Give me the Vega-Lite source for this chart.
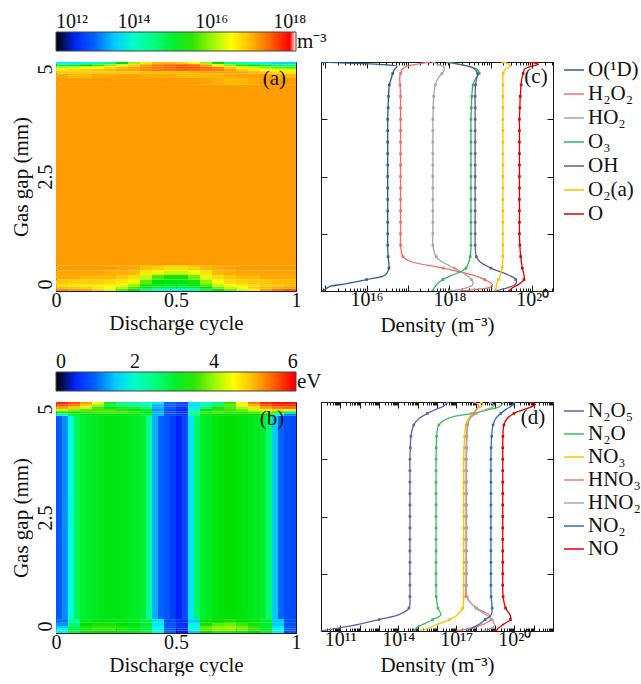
{
"$schema":"https://vega.github.io/schema/vega-lite/v6.json",
"background":"white",
"padding":{"left":9,"top":31,"right":0,"bottom":0},
"columns":2,
"spacing":{"row":111,"column":25},
"bounds":"flush",
"config":{
"font":"Liberation Serif",
"view":{"stroke":"#1a1a1a","strokeWidth":1},
"axis":{"labelFont":"Liberation Serif","titleFont":"Liberation Serif","labelFontSize":20,"titleFontSize":21,"titleFontWeight":"normal","labelColor":"#111111","titleColor":"#111111","tickColor":"#1a1a1a","grid":false,"labelFlush":false,"labelOverlap":false,"domain":false},
"legend":{"labelFont":"Liberation Serif","titleFont":"Liberation Serif","labelFontSize":21,"titleFontSize":21,"titleFontWeight":"normal","labelColor":"#111111","titleColor":"#111111","padding":0,"gradientHorizontalMaxLength":400,"gradientHorizontalMinLength":50,"labelOverlap":false},
"text":{"font":"Liberation Serif"}
},
"resolve":{"scale":{"color":"independent","fill":"independent","stroke":"independent"},"legend":{"color":"independent","fill":"independent","stroke":"independent"}},
"datasets":{
"ne":[
{"t":0,"u":1,"g":0.55,"h":4.5,"v":17.2},
{"t":0,"u":0.05,"g":4.95,"h":5,"v":13.65},{"t":0,"u":0.05,"g":4.9,"h":4.95,"v":14.85},{"t":0,"u":0.05,"g":4.85,"h":4.9,"v":16.2},{"t":0,"u":0.05,"g":4.8,"h":4.85,"v":16.65},{"t":0,"u":0.05,"g":4.75,"h":4.8,"v":16.9},{"t":0,"u":0.05,"g":4.65,"h":4.75,"v":17.1},{"t":0,"u":0.05,"g":4.5,"h":4.65,"v":17.2},
{"t":0,"u":0.05,"g":0,"h":0.05,"v":17.3},{"t":0,"u":0.05,"g":0.05,"h":0.1,"v":17.0},{"t":0,"u":0.05,"g":0.1,"h":0.15,"v":16.75},{"t":0,"u":0.05,"g":0.15,"h":0.25,"v":16.9},{"t":0,"u":0.05,"g":0.25,"h":0.35,"v":17.1},{"t":0,"u":0.05,"g":0.35,"h":0.45,"v":17.15},{"t":0,"u":0.05,"g":0.45,"h":0.55,"v":17.2},
{"t":0.05,"u":0.1,"g":4.95,"h":5,"v":13.65},{"t":0.05,"u":0.1,"g":4.9,"h":4.95,"v":15.0},{"t":0.05,"u":0.1,"g":4.85,"h":4.9,"v":16.3},{"t":0.05,"u":0.1,"g":4.8,"h":4.85,"v":16.75},{"t":0.05,"u":0.1,"g":4.75,"h":4.8,"v":16.9},{"t":0.05,"u":0.1,"g":4.65,"h":4.75,"v":17.0},{"t":0.05,"u":0.1,"g":4.5,"h":4.65,"v":17.2},
{"t":0.05,"u":0.1,"g":0,"h":0.05,"v":17.2},{"t":0.05,"u":0.1,"g":0.05,"h":0.1,"v":16.9},{"t":0.05,"u":0.1,"g":0.1,"h":0.15,"v":16.65},{"t":0.05,"u":0.1,"g":0.15,"h":0.25,"v":16.85},{"t":0.05,"u":0.1,"g":0.25,"h":0.35,"v":17.1},{"t":0.05,"u":0.1,"g":0.35,"h":0.45,"v":17.15},{"t":0.05,"u":0.1,"g":0.45,"h":0.55,"v":17.2},
{"t":0.1,"u":0.15,"g":4.95,"h":5,"v":13.75},{"t":0.1,"u":0.15,"g":4.9,"h":4.95,"v":15.3},{"t":0.1,"u":0.15,"g":4.85,"h":4.9,"v":16.4},{"t":0.1,"u":0.15,"g":4.8,"h":4.85,"v":16.85},{"t":0.1,"u":0.15,"g":4.75,"h":4.8,"v":16.9},{"t":0.1,"u":0.15,"g":4.65,"h":4.75,"v":17.0},{"t":0.1,"u":0.15,"g":4.5,"h":4.65,"v":17.2},
{"t":0.1,"u":0.15,"g":0,"h":0.05,"v":17.15},{"t":0.1,"u":0.15,"g":0.05,"h":0.1,"v":16.85},{"t":0.1,"u":0.15,"g":0.1,"h":0.15,"v":16.65},{"t":0.1,"u":0.15,"g":0.15,"h":0.25,"v":16.85},{"t":0.1,"u":0.15,"g":0.25,"h":0.35,"v":17.0},{"t":0.1,"u":0.15,"g":0.35,"h":0.45,"v":17.15},{"t":0.1,"u":0.15,"g":0.45,"h":0.55,"v":17.2},
{"t":0.15,"u":0.2,"g":4.95,"h":5,"v":13.95},{"t":0.15,"u":0.2,"g":4.9,"h":4.95,"v":15.6},{"t":0.15,"u":0.2,"g":4.85,"h":4.9,"v":16.5},{"t":0.15,"u":0.2,"g":4.8,"h":4.85,"v":16.9},{"t":0.15,"u":0.2,"g":4.75,"h":4.8,"v":16.9},{"t":0.15,"u":0.2,"g":4.65,"h":4.75,"v":17.1},{"t":0.15,"u":0.2,"g":4.5,"h":4.65,"v":17.2},
{"t":0.15,"u":0.2,"g":0,"h":0.05,"v":16.85},{"t":0.15,"u":0.2,"g":0.05,"h":0.1,"v":16.65},{"t":0.15,"u":0.2,"g":0.1,"h":0.15,"v":16.65},{"t":0.15,"u":0.2,"g":0.15,"h":0.25,"v":16.85},{"t":0.15,"u":0.2,"g":0.25,"h":0.35,"v":17.0},{"t":0.15,"u":0.2,"g":0.35,"h":0.45,"v":17.15},{"t":0.15,"u":0.2,"g":0.45,"h":0.55,"v":17.2},
{"t":0.2,"u":0.25,"g":4.95,"h":5,"v":14.4},{"t":0.2,"u":0.25,"g":4.9,"h":4.95,"v":16.0},{"t":0.2,"u":0.25,"g":4.85,"h":4.9,"v":16.75},{"t":0.2,"u":0.25,"g":4.8,"h":4.85,"v":17.0},{"t":0.2,"u":0.25,"g":4.75,"h":4.8,"v":16.9},{"t":0.2,"u":0.25,"g":4.65,"h":4.75,"v":17.1},{"t":0.2,"u":0.25,"g":4.5,"h":4.65,"v":17.2},
{"t":0.2,"u":0.25,"g":0,"h":0.05,"v":16.3},{"t":0.2,"u":0.25,"g":0.05,"h":0.1,"v":16.5},{"t":0.2,"u":0.25,"g":0.1,"h":0.15,"v":16.6},{"t":0.2,"u":0.25,"g":0.15,"h":0.25,"v":16.75},{"t":0.2,"u":0.25,"g":0.25,"h":0.35,"v":17.0},{"t":0.2,"u":0.25,"g":0.35,"h":0.45,"v":17.1},{"t":0.2,"u":0.25,"g":0.45,"h":0.55,"v":17.2},
{"t":0.25,"u":0.3,"g":4.95,"h":5,"v":15.3},{"t":0.25,"u":0.3,"g":4.9,"h":4.95,"v":16.4},{"t":0.25,"u":0.3,"g":4.85,"h":4.9,"v":17.0},{"t":0.25,"u":0.3,"g":4.8,"h":4.85,"v":17.1},{"t":0.25,"u":0.3,"g":4.75,"h":4.8,"v":16.9},{"t":0.25,"u":0.3,"g":4.65,"h":4.75,"v":17.15},{"t":0.25,"u":0.3,"g":4.5,"h":4.65,"v":17.2},
{"t":0.25,"u":0.3,"g":0,"h":0.05,"v":15.7},{"t":0.25,"u":0.3,"g":0.05,"h":0.1,"v":16.1},{"t":0.25,"u":0.3,"g":0.1,"h":0.15,"v":16.4},{"t":0.25,"u":0.3,"g":0.15,"h":0.25,"v":16.65},{"t":0.25,"u":0.3,"g":0.25,"h":0.35,"v":16.9},{"t":0.25,"u":0.3,"g":0.35,"h":0.45,"v":17.1},{"t":0.25,"u":0.3,"g":0.45,"h":0.55,"v":17.15},
{"t":0.3,"u":0.35,"g":4.95,"h":5,"v":16.0},{"t":0.3,"u":0.35,"g":4.9,"h":4.95,"v":16.85},{"t":0.3,"u":0.35,"g":4.85,"h":4.9,"v":17.15},{"t":0.3,"u":0.35,"g":4.8,"h":4.85,"v":17.15},{"t":0.3,"u":0.35,"g":4.75,"h":4.8,"v":16.9},{"t":0.3,"u":0.35,"g":4.65,"h":4.75,"v":17.15},{"t":0.3,"u":0.35,"g":4.5,"h":4.65,"v":17.2},
{"t":0.3,"u":0.35,"g":0,"h":0.05,"v":15.15},{"t":0.3,"u":0.35,"g":0.05,"h":0.1,"v":15.6},{"t":0.3,"u":0.35,"g":0.1,"h":0.15,"v":16.0},{"t":0.3,"u":0.35,"g":0.15,"h":0.25,"v":16.4},{"t":0.3,"u":0.35,"g":0.25,"h":0.35,"v":16.75},{"t":0.3,"u":0.35,"g":0.35,"h":0.45,"v":17.0},{"t":0.3,"u":0.35,"g":0.45,"h":0.55,"v":17.1},
{"t":0.35,"u":0.4,"g":4.95,"h":5,"v":16.65},{"t":0.35,"u":0.4,"g":4.9,"h":4.95,"v":17.2},{"t":0.35,"u":0.4,"g":4.85,"h":4.9,"v":17.3},{"t":0.35,"u":0.4,"g":4.8,"h":4.85,"v":17.3},{"t":0.35,"u":0.4,"g":4.75,"h":4.8,"v":17.0},{"t":0.35,"u":0.4,"g":4.65,"h":4.75,"v":17.1},{"t":0.35,"u":0.4,"g":4.5,"h":4.65,"v":17.2},
{"t":0.35,"u":0.4,"g":0,"h":0.05,"v":14.4},{"t":0.35,"u":0.4,"g":0.05,"h":0.1,"v":15.2},{"t":0.35,"u":0.4,"g":0.1,"h":0.15,"v":15.4},{"t":0.35,"u":0.4,"g":0.15,"h":0.25,"v":15.7},{"t":0.35,"u":0.4,"g":0.25,"h":0.35,"v":16.2},{"t":0.35,"u":0.4,"g":0.35,"h":0.45,"v":16.65},{"t":0.35,"u":0.4,"g":0.45,"h":0.55,"v":16.95},
{"t":0.4,"u":0.45,"g":4.95,"h":5,"v":17.0},{"t":0.4,"u":0.45,"g":4.9,"h":4.95,"v":17.4},{"t":0.4,"u":0.45,"g":4.85,"h":4.9,"v":17.4},{"t":0.4,"u":0.45,"g":4.8,"h":4.85,"v":17.35},{"t":0.4,"u":0.45,"g":4.75,"h":4.8,"v":17.0},{"t":0.4,"u":0.45,"g":4.65,"h":4.75,"v":17.1},{"t":0.4,"u":0.45,"g":4.5,"h":4.65,"v":17.2},
{"t":0.4,"u":0.45,"g":0,"h":0.05,"v":13.9},{"t":0.4,"u":0.45,"g":0.05,"h":0.1,"v":14.95},{"t":0.4,"u":0.45,"g":0.1,"h":0.15,"v":15.15},{"t":0.4,"u":0.45,"g":0.15,"h":0.25,"v":15.3},{"t":0.4,"u":0.45,"g":0.25,"h":0.35,"v":15.6},{"t":0.4,"u":0.45,"g":0.35,"h":0.45,"v":16.4},{"t":0.4,"u":0.45,"g":0.45,"h":0.55,"v":16.85},
{"t":0.45,"u":0.5,"g":4.95,"h":5,"v":17.0},{"t":0.45,"u":0.5,"g":4.9,"h":4.95,"v":17.5},{"t":0.45,"u":0.5,"g":4.85,"h":4.9,"v":17.5},{"t":0.45,"u":0.5,"g":4.8,"h":4.85,"v":17.4},{"t":0.45,"u":0.5,"g":4.75,"h":4.8,"v":17.0},{"t":0.45,"u":0.5,"g":4.65,"h":4.75,"v":17.1},{"t":0.45,"u":0.5,"g":4.5,"h":4.65,"v":17.2},
{"t":0.45,"u":0.5,"g":0,"h":0.05,"v":13.7},{"t":0.45,"u":0.5,"g":0.05,"h":0.1,"v":14.9},{"t":0.45,"u":0.5,"g":0.1,"h":0.15,"v":15.1},{"t":0.45,"u":0.5,"g":0.15,"h":0.25,"v":15.2},{"t":0.45,"u":0.5,"g":0.25,"h":0.35,"v":15.4},{"t":0.45,"u":0.5,"g":0.35,"h":0.45,"v":16.2},{"t":0.45,"u":0.5,"g":0.45,"h":0.55,"v":16.75},
{"t":0.5,"u":0.55,"g":4.95,"h":5,"v":16.85},{"t":0.5,"u":0.55,"g":4.9,"h":4.95,"v":17.6},{"t":0.5,"u":0.55,"g":4.85,"h":4.9,"v":17.6},{"t":0.5,"u":0.55,"g":4.8,"h":4.85,"v":17.45},{"t":0.5,"u":0.55,"g":4.75,"h":4.8,"v":17.0},{"t":0.5,"u":0.55,"g":4.65,"h":4.75,"v":17.0},{"t":0.5,"u":0.55,"g":4.5,"h":4.65,"v":17.2},
{"t":0.5,"u":0.55,"g":0,"h":0.05,"v":13.7},{"t":0.5,"u":0.55,"g":0.05,"h":0.1,"v":14.9},{"t":0.5,"u":0.55,"g":0.1,"h":0.15,"v":15.1},{"t":0.5,"u":0.55,"g":0.15,"h":0.25,"v":15.2},{"t":0.5,"u":0.55,"g":0.25,"h":0.35,"v":15.4},{"t":0.5,"u":0.55,"g":0.35,"h":0.45,"v":16.2},{"t":0.5,"u":0.55,"g":0.45,"h":0.55,"v":16.75},
{"t":0.55,"u":0.6,"g":4.95,"h":5,"v":16.5},{"t":0.55,"u":0.6,"g":4.9,"h":4.95,"v":17.5},{"t":0.55,"u":0.6,"g":4.85,"h":4.9,"v":17.6},{"t":0.55,"u":0.6,"g":4.8,"h":4.85,"v":17.45},{"t":0.55,"u":0.6,"g":4.75,"h":4.8,"v":17.1},{"t":0.55,"u":0.6,"g":4.65,"h":4.75,"v":17.0},{"t":0.55,"u":0.6,"g":4.5,"h":4.65,"v":17.2},
{"t":0.55,"u":0.6,"g":0,"h":0.05,"v":14.0},{"t":0.55,"u":0.6,"g":0.05,"h":0.1,"v":15.0},{"t":0.55,"u":0.6,"g":0.1,"h":0.15,"v":15.2},{"t":0.55,"u":0.6,"g":0.15,"h":0.25,"v":15.4},{"t":0.55,"u":0.6,"g":0.25,"h":0.35,"v":15.8},{"t":0.55,"u":0.6,"g":0.35,"h":0.45,"v":16.4},{"t":0.55,"u":0.6,"g":0.45,"h":0.55,"v":16.85},
{"t":0.6,"u":0.65,"g":4.95,"h":5,"v":16.0},{"t":0.6,"u":0.65,"g":4.9,"h":4.95,"v":17.15},{"t":0.6,"u":0.65,"g":4.85,"h":4.9,"v":17.5},{"t":0.6,"u":0.65,"g":4.8,"h":4.85,"v":17.4},{"t":0.6,"u":0.65,"g":4.75,"h":4.8,"v":17.15},{"t":0.6,"u":0.65,"g":4.65,"h":4.75,"v":17.0},{"t":0.6,"u":0.65,"g":4.5,"h":4.65,"v":17.15},
{"t":0.6,"u":0.65,"g":0,"h":0.05,"v":14.7},{"t":0.6,"u":0.65,"g":0.05,"h":0.1,"v":15.3},{"t":0.6,"u":0.65,"g":0.1,"h":0.15,"v":15.6},{"t":0.6,"u":0.65,"g":0.15,"h":0.25,"v":15.95},{"t":0.6,"u":0.65,"g":0.25,"h":0.35,"v":16.35},{"t":0.6,"u":0.65,"g":0.35,"h":0.45,"v":16.7},{"t":0.6,"u":0.65,"g":0.45,"h":0.55,"v":17.0},
{"t":0.65,"u":0.7,"g":4.95,"h":5,"v":15.3},{"t":0.65,"u":0.7,"g":4.9,"h":4.95,"v":16.5},{"t":0.65,"u":0.7,"g":4.85,"h":4.9,"v":17.3},{"t":0.65,"u":0.7,"g":4.8,"h":4.85,"v":17.35},{"t":0.65,"u":0.7,"g":4.75,"h":4.8,"v":17.2},{"t":0.65,"u":0.7,"g":4.65,"h":4.75,"v":17.0},{"t":0.65,"u":0.7,"g":4.5,"h":4.65,"v":17.1},
{"t":0.65,"u":0.7,"g":0,"h":0.05,"v":15.4},{"t":0.65,"u":0.7,"g":0.05,"h":0.1,"v":15.8},{"t":0.65,"u":0.7,"g":0.1,"h":0.15,"v":16.2},{"t":0.65,"u":0.7,"g":0.15,"h":0.25,"v":16.5},{"t":0.65,"u":0.7,"g":0.25,"h":0.35,"v":16.75},{"t":0.65,"u":0.7,"g":0.35,"h":0.45,"v":17.0},{"t":0.65,"u":0.7,"g":0.45,"h":0.55,"v":17.1},
{"t":0.7,"u":0.75,"g":4.95,"h":5,"v":14.4},{"t":0.7,"u":0.75,"g":4.9,"h":4.95,"v":16.0},{"t":0.7,"u":0.75,"g":4.85,"h":4.9,"v":16.85},{"t":0.7,"u":0.75,"g":4.8,"h":4.85,"v":17.15},{"t":0.7,"u":0.75,"g":4.75,"h":4.8,"v":17.2},{"t":0.7,"u":0.75,"g":4.65,"h":4.75,"v":17.1},{"t":0.7,"u":0.75,"g":4.5,"h":4.65,"v":17.0},
{"t":0.7,"u":0.75,"g":0,"h":0.05,"v":15.8},{"t":0.7,"u":0.75,"g":0.05,"h":0.1,"v":16.2},{"t":0.7,"u":0.75,"g":0.1,"h":0.15,"v":16.5},{"t":0.7,"u":0.75,"g":0.15,"h":0.25,"v":16.75},{"t":0.7,"u":0.75,"g":0.25,"h":0.35,"v":16.9},{"t":0.7,"u":0.75,"g":0.35,"h":0.45,"v":17.1},{"t":0.7,"u":0.75,"g":0.45,"h":0.55,"v":17.15},
{"t":0.75,"u":0.8,"g":4.95,"h":5,"v":13.95},{"t":0.75,"u":0.8,"g":4.9,"h":4.95,"v":15.5},{"t":0.75,"u":0.8,"g":4.85,"h":4.9,"v":16.4},{"t":0.75,"u":0.8,"g":4.8,"h":4.85,"v":16.85},{"t":0.75,"u":0.8,"g":4.75,"h":4.8,"v":17.15},{"t":0.75,"u":0.8,"g":4.65,"h":4.75,"v":17.15},{"t":0.75,"u":0.8,"g":4.5,"h":4.65,"v":17.0},
{"t":0.75,"u":0.8,"g":0,"h":0.05,"v":16.2},{"t":0.75,"u":0.8,"g":0.05,"h":0.1,"v":16.5},{"t":0.75,"u":0.8,"g":0.1,"h":0.15,"v":16.65},{"t":0.75,"u":0.8,"g":0.15,"h":0.25,"v":16.85},{"t":0.75,"u":0.8,"g":0.25,"h":0.35,"v":17.0},{"t":0.75,"u":0.8,"g":0.35,"h":0.45,"v":17.15},{"t":0.75,"u":0.8,"g":0.45,"h":0.55,"v":17.2},
{"t":0.8,"u":0.85,"g":4.95,"h":5,"v":13.75},{"t":0.8,"u":0.85,"g":4.9,"h":4.95,"v":15.15},{"t":0.8,"u":0.85,"g":4.85,"h":4.9,"v":16.2},{"t":0.8,"u":0.85,"g":4.8,"h":4.85,"v":16.65},{"t":0.8,"u":0.85,"g":4.75,"h":4.8,"v":17.0},{"t":0.8,"u":0.85,"g":4.65,"h":4.75,"v":17.15},{"t":0.8,"u":0.85,"g":4.5,"h":4.65,"v":17.1},
{"t":0.8,"u":0.85,"g":0,"h":0.05,"v":16.65},{"t":0.8,"u":0.85,"g":0.05,"h":0.1,"v":16.85},{"t":0.8,"u":0.85,"g":0.1,"h":0.15,"v":16.75},{"t":0.8,"u":0.85,"g":0.15,"h":0.25,"v":16.9},{"t":0.8,"u":0.85,"g":0.25,"h":0.35,"v":17.0},{"t":0.8,"u":0.85,"g":0.35,"h":0.45,"v":17.15},{"t":0.8,"u":0.85,"g":0.45,"h":0.55,"v":17.2},
{"t":0.85,"u":0.9,"g":4.95,"h":5,"v":13.65},{"t":0.85,"u":0.9,"g":4.9,"h":4.95,"v":14.85},{"t":0.85,"u":0.9,"g":4.85,"h":4.9,"v":16.0},{"t":0.85,"u":0.9,"g":4.8,"h":4.85,"v":16.5},{"t":0.85,"u":0.9,"g":4.75,"h":4.8,"v":16.85},{"t":0.85,"u":0.9,"g":4.65,"h":4.75,"v":17.15},{"t":0.85,"u":0.9,"g":4.5,"h":4.65,"v":17.2},
{"t":0.85,"u":0.9,"g":0,"h":0.05,"v":17.15},{"t":0.85,"u":0.9,"g":0.05,"h":0.1,"v":17.0},{"t":0.85,"u":0.9,"g":0.1,"h":0.15,"v":16.85},{"t":0.85,"u":0.9,"g":0.15,"h":0.25,"v":16.9},{"t":0.85,"u":0.9,"g":0.25,"h":0.35,"v":17.1},{"t":0.85,"u":0.9,"g":0.35,"h":0.45,"v":17.15},{"t":0.85,"u":0.9,"g":0.45,"h":0.55,"v":17.2},
{"t":0.9,"u":0.95,"g":4.95,"h":5,"v":13.55},{"t":0.9,"u":0.95,"g":4.9,"h":4.95,"v":14.55},{"t":0.9,"u":0.95,"g":4.85,"h":4.9,"v":15.8},{"t":0.9,"u":0.95,"g":4.8,"h":4.85,"v":16.4},{"t":0.9,"u":0.95,"g":4.75,"h":4.8,"v":16.75},{"t":0.9,"u":0.95,"g":4.65,"h":4.75,"v":17.1},{"t":0.9,"u":0.95,"g":4.5,"h":4.65,"v":17.2},
{"t":0.9,"u":0.95,"g":0,"h":0.05,"v":17.4},{"t":0.9,"u":0.95,"g":0.05,"h":0.1,"v":17.1},{"t":0.9,"u":0.95,"g":0.1,"h":0.15,"v":16.9},{"t":0.9,"u":0.95,"g":0.15,"h":0.25,"v":17.0},{"t":0.9,"u":0.95,"g":0.25,"h":0.35,"v":17.1},{"t":0.9,"u":0.95,"g":0.35,"h":0.45,"v":17.15},{"t":0.9,"u":0.95,"g":0.45,"h":0.55,"v":17.2},
{"t":0.95,"u":1,"g":4.95,"h":5,"v":13.55},{"t":0.95,"u":1,"g":4.9,"h":4.95,"v":14.4},{"t":0.95,"u":1,"g":4.85,"h":4.9,"v":15.7},{"t":0.95,"u":1,"g":4.8,"h":4.85,"v":16.3},{"t":0.95,"u":1,"g":4.75,"h":4.8,"v":16.65},{"t":0.95,"u":1,"g":4.65,"h":4.75,"v":17.0},{"t":0.95,"u":1,"g":4.5,"h":4.65,"v":17.2},
{"t":0.95,"u":1,"g":0,"h":0.05,"v":17.5},{"t":0.95,"u":1,"g":0.05,"h":0.1,"v":17.15},{"t":0.95,"u":1,"g":0.1,"h":0.15,"v":17.0},{"t":0.95,"u":1,"g":0.15,"h":0.25,"v":17.0},{"t":0.95,"u":1,"g":0.25,"h":0.35,"v":17.1},{"t":0.95,"u":1,"g":0.35,"h":0.45,"v":17.15},{"t":0.95,"u":1,"g":0.45,"h":0.55,"v":17.2}
],
"te":[
{"t":0,"u":0.025,"g":0.3,"h":4.7,"v":0.9},{"t":0.025,"u":0.05,"g":0.3,"h":4.7,"v":1.25},{"t":0.05,"u":0.075,"g":0.3,"h":4.7,"v":1.9},{"t":0.075,"u":0.1,"g":0.3,"h":4.7,"v":2.8},{"t":0.1,"u":0.125,"g":0.3,"h":4.7,"v":3.0},{"t":0.125,"u":0.15,"g":0.3,"h":4.7,"v":3.05},{"t":0.15,"u":0.175,"g":0.3,"h":4.7,"v":3.1},{"t":0.175,"u":0.2,"g":0.3,"h":4.7,"v":3.15},{"t":0.2,"u":0.225,"g":0.3,"h":4.7,"v":3.2},{"t":0.225,"u":0.25,"g":0.3,"h":4.7,"v":3.2},
{"t":0.25,"u":0.275,"g":0.3,"h":4.7,"v":3.2},{"t":0.275,"u":0.3,"g":0.3,"h":4.7,"v":3.15},{"t":0.3,"u":0.325,"g":0.3,"h":4.7,"v":3.1},{"t":0.325,"u":0.35,"g":0.3,"h":4.7,"v":3.05},{"t":0.35,"u":0.375,"g":0.3,"h":4.7,"v":3.0},{"t":0.375,"u":0.4,"g":0.3,"h":4.7,"v":2.3},{"t":0.4,"u":0.425,"g":0.3,"h":4.7,"v":1.4},{"t":0.425,"u":0.45,"g":0.3,"h":4.7,"v":1.0},{"t":0.45,"u":0.475,"g":0.3,"h":4.7,"v":0.9},{"t":0.475,"u":0.5,"g":0.3,"h":4.7,"v":0.7},
{"t":0.5,"u":0.525,"g":0.3,"h":4.7,"v":0.45},{"t":0.525,"u":0.55,"g":0.3,"h":4.7,"v":0.8},{"t":0.55,"u":0.575,"g":0.3,"h":4.7,"v":1.6},{"t":0.575,"u":0.6,"g":0.3,"h":4.7,"v":2.7},{"t":0.6,"u":0.625,"g":0.3,"h":4.7,"v":3.0},{"t":0.625,"u":0.65,"g":0.3,"h":4.7,"v":3.1},{"t":0.65,"u":0.675,"g":0.3,"h":4.7,"v":3.2},{"t":0.675,"u":0.7,"g":0.3,"h":4.7,"v":3.25},{"t":0.7,"u":0.725,"g":0.3,"h":4.7,"v":3.3},{"t":0.725,"u":0.75,"g":0.3,"h":4.7,"v":3.3},
{"t":0.75,"u":0.775,"g":0.3,"h":4.7,"v":3.25},{"t":0.775,"u":0.8,"g":0.3,"h":4.7,"v":3.2},{"t":0.8,"u":0.825,"g":0.3,"h":4.7,"v":3.15},{"t":0.825,"u":0.85,"g":0.3,"h":4.7,"v":3.1},{"t":0.85,"u":0.875,"g":0.3,"h":4.7,"v":3.0},{"t":0.875,"u":0.9,"g":0.3,"h":4.7,"v":2.6},{"t":0.9,"u":0.925,"g":0.3,"h":4.7,"v":1.5},{"t":0.925,"u":0.95,"g":0.3,"h":4.7,"v":1.0},{"t":0.95,"u":0.975,"g":0.3,"h":4.7,"v":0.85},{"t":0.975,"u":1,"g":0.3,"h":4.7,"v":0.8},
{"t":0,"u":0.05,"g":4.95,"h":5,"v":5.8},{"t":0,"u":0.05,"g":4.9,"h":4.95,"v":5.6},{"t":0,"u":0.05,"g":4.85,"h":4.9,"v":5.2},{"t":0,"u":0.05,"g":4.8,"h":4.85,"v":4.2},{"t":0,"u":0.05,"g":4.75,"h":4.8,"v":3.5},{"t":0,"u":0.05,"g":4.7,"h":4.75,"v":2.0},
{"t":0.05,"u":0.1,"g":4.95,"h":5,"v":5.6},{"t":0.05,"u":0.1,"g":4.9,"h":4.95,"v":5.4},{"t":0.05,"u":0.1,"g":4.85,"h":4.9,"v":4.9},{"t":0.05,"u":0.1,"g":4.8,"h":4.85,"v":3.9},{"t":0.05,"u":0.1,"g":4.75,"h":4.8,"v":3.4},{"t":0.05,"u":0.1,"g":4.7,"h":4.75,"v":3.0},
{"t":0.1,"u":0.15,"g":4.95,"h":5,"v":5.2},{"t":0.1,"u":0.15,"g":4.9,"h":4.95,"v":4.9},{"t":0.1,"u":0.15,"g":4.85,"h":4.9,"v":4.3},{"t":0.1,"u":0.15,"g":4.8,"h":4.85,"v":3.7},{"t":0.1,"u":0.15,"g":4.75,"h":4.8,"v":3.5},{"t":0.1,"u":0.15,"g":4.7,"h":4.75,"v":3.2},
{"t":0.15,"u":0.2,"g":4.95,"h":5,"v":4.4},{"t":0.15,"u":0.2,"g":4.9,"h":4.95,"v":4.0},{"t":0.15,"u":0.2,"g":4.85,"h":4.9,"v":3.6},{"t":0.15,"u":0.2,"g":4.8,"h":4.85,"v":3.6},{"t":0.15,"u":0.2,"g":4.75,"h":4.8,"v":3.6},{"t":0.15,"u":0.2,"g":4.7,"h":4.75,"v":3.2},
{"t":0.2,"u":0.25,"g":4.95,"h":5,"v":3.0},{"t":0.2,"u":0.25,"g":4.9,"h":4.95,"v":3.0},{"t":0.2,"u":0.25,"g":4.85,"h":4.9,"v":3.2},{"t":0.2,"u":0.25,"g":4.8,"h":4.85,"v":3.6},{"t":0.2,"u":0.25,"g":4.75,"h":4.8,"v":3.6},{"t":0.2,"u":0.25,"g":4.7,"h":4.75,"v":3.2},
{"t":0.25,"u":0.3,"g":4.95,"h":5,"v":2.4},{"t":0.25,"u":0.3,"g":4.9,"h":4.95,"v":2.6},{"t":0.25,"u":0.3,"g":4.85,"h":4.9,"v":3.0},{"t":0.25,"u":0.3,"g":4.8,"h":4.85,"v":3.5},{"t":0.25,"u":0.3,"g":4.75,"h":4.8,"v":3.6},{"t":0.25,"u":0.3,"g":4.7,"h":4.75,"v":3.2},
{"t":0.3,"u":0.35,"g":4.95,"h":5,"v":2.2},{"t":0.3,"u":0.35,"g":4.9,"h":4.95,"v":2.4},{"t":0.3,"u":0.35,"g":4.85,"h":4.9,"v":2.9},{"t":0.3,"u":0.35,"g":4.8,"h":4.85,"v":3.4},{"t":0.3,"u":0.35,"g":4.75,"h":4.8,"v":3.5},{"t":0.3,"u":0.35,"g":4.7,"h":4.75,"v":3.2},
{"t":0.35,"u":0.4,"g":4.95,"h":5,"v":2.0},{"t":0.35,"u":0.4,"g":4.9,"h":4.95,"v":2.2},{"t":0.35,"u":0.4,"g":4.85,"h":4.9,"v":2.6},{"t":0.35,"u":0.4,"g":4.8,"h":4.85,"v":3.0},{"t":0.35,"u":0.4,"g":4.75,"h":4.8,"v":3.2},{"t":0.35,"u":0.4,"g":4.7,"h":4.75,"v":3.0},
{"t":0.4,"u":0.45,"g":4.95,"h":5,"v":1.6},{"t":0.4,"u":0.45,"g":4.9,"h":4.95,"v":1.4},{"t":0.4,"u":0.45,"g":4.85,"h":4.9,"v":1.4},{"t":0.4,"u":0.45,"g":4.8,"h":4.85,"v":1.3},{"t":0.4,"u":0.45,"g":4.75,"h":4.8,"v":1.4},{"t":0.4,"u":0.45,"g":4.7,"h":4.75,"v":1.4},
{"t":0.45,"u":0.5,"g":4.95,"h":5,"v":1.0},{"t":0.45,"u":0.5,"g":4.9,"h":4.95,"v":0.9},{"t":0.45,"u":0.5,"g":4.85,"h":4.9,"v":0.9},{"t":0.45,"u":0.5,"g":4.8,"h":4.85,"v":0.8},{"t":0.45,"u":0.5,"g":4.75,"h":4.8,"v":0.8},{"t":0.45,"u":0.5,"g":4.7,"h":4.75,"v":0.8},
{"t":0.5,"u":0.55,"g":4.95,"h":5,"v":0.8},{"t":0.5,"u":0.55,"g":4.9,"h":4.95,"v":0.7},{"t":0.5,"u":0.55,"g":4.85,"h":4.9,"v":0.6},{"t":0.5,"u":0.55,"g":4.8,"h":4.85,"v":0.6},{"t":0.5,"u":0.55,"g":4.75,"h":4.8,"v":0.6},{"t":0.5,"u":0.55,"g":4.7,"h":4.75,"v":0.6},
{"t":0.55,"u":0.6,"g":4.95,"h":5,"v":1.6},{"t":0.55,"u":0.6,"g":4.9,"h":4.95,"v":1.5},{"t":0.55,"u":0.6,"g":4.85,"h":4.9,"v":1.6},{"t":0.55,"u":0.6,"g":4.8,"h":4.85,"v":2.0},{"t":0.55,"u":0.6,"g":4.75,"h":4.8,"v":2.4},{"t":0.55,"u":0.6,"g":4.7,"h":4.75,"v":2.4},
{"t":0.6,"u":0.65,"g":4.95,"h":5,"v":2.0},{"t":0.6,"u":0.65,"g":4.9,"h":4.95,"v":2.2},{"t":0.6,"u":0.65,"g":4.85,"h":4.9,"v":2.6},{"t":0.6,"u":0.65,"g":4.8,"h":4.85,"v":3.2},{"t":0.6,"u":0.65,"g":4.75,"h":4.8,"v":3.5},{"t":0.6,"u":0.65,"g":4.7,"h":4.75,"v":3.2},
{"t":0.65,"u":0.7,"g":4.95,"h":5,"v":2.6},{"t":0.65,"u":0.7,"g":4.9,"h":4.95,"v":2.8},{"t":0.65,"u":0.7,"g":4.85,"h":4.9,"v":3.2},{"t":0.65,"u":0.7,"g":4.8,"h":4.85,"v":3.5},{"t":0.65,"u":0.7,"g":4.75,"h":4.8,"v":3.6},{"t":0.65,"u":0.7,"g":4.7,"h":4.75,"v":3.3},
{"t":0.7,"u":0.75,"g":4.95,"h":5,"v":3.5},{"t":0.7,"u":0.75,"g":4.9,"h":4.95,"v":3.6},{"t":0.7,"u":0.75,"g":4.85,"h":4.9,"v":3.6},{"t":0.7,"u":0.75,"g":4.8,"h":4.85,"v":3.6},{"t":0.7,"u":0.75,"g":4.75,"h":4.8,"v":3.5},{"t":0.7,"u":0.75,"g":4.7,"h":4.75,"v":3.3},
{"t":0.75,"u":0.8,"g":4.95,"h":5,"v":4.6},{"t":0.75,"u":0.8,"g":4.9,"h":4.95,"v":4.4},{"t":0.75,"u":0.8,"g":4.85,"h":4.9,"v":4.1},{"t":0.75,"u":0.8,"g":4.8,"h":4.85,"v":3.8},{"t":0.75,"u":0.8,"g":4.75,"h":4.8,"v":3.5},{"t":0.75,"u":0.8,"g":4.7,"h":4.75,"v":3.3},
{"t":0.8,"u":0.85,"g":4.95,"h":5,"v":5.4},{"t":0.8,"u":0.85,"g":4.9,"h":4.95,"v":5.1},{"t":0.8,"u":0.85,"g":4.85,"h":4.9,"v":4.7},{"t":0.8,"u":0.85,"g":4.8,"h":4.85,"v":4.2},{"t":0.8,"u":0.85,"g":4.75,"h":4.8,"v":3.7},{"t":0.8,"u":0.85,"g":4.7,"h":4.75,"v":3.3},
{"t":0.85,"u":0.9,"g":4.95,"h":5,"v":5.8},{"t":0.85,"u":0.9,"g":4.9,"h":4.95,"v":5.6},{"t":0.85,"u":0.9,"g":4.85,"h":4.9,"v":5.2},{"t":0.85,"u":0.9,"g":4.8,"h":4.85,"v":4.6},{"t":0.85,"u":0.9,"g":4.75,"h":4.8,"v":3.9},{"t":0.85,"u":0.9,"g":4.7,"h":4.75,"v":3.2},
{"t":0.9,"u":0.95,"g":4.95,"h":5,"v":5.9},{"t":0.9,"u":0.95,"g":4.9,"h":4.95,"v":5.8},{"t":0.9,"u":0.95,"g":4.85,"h":4.9,"v":5.4},{"t":0.9,"u":0.95,"g":4.8,"h":4.85,"v":4.8},{"t":0.9,"u":0.95,"g":4.75,"h":4.8,"v":3.6},{"t":0.9,"u":0.95,"g":4.7,"h":4.75,"v":2.0},
{"t":0.95,"u":1,"g":4.95,"h":5,"v":5.9},{"t":0.95,"u":1,"g":4.9,"h":4.95,"v":5.8},{"t":0.95,"u":1,"g":4.85,"h":4.9,"v":5.5},{"t":0.95,"u":1,"g":4.8,"h":4.85,"v":4.6},{"t":0.95,"u":1,"g":4.75,"h":4.8,"v":2.6},{"t":0.95,"u":1,"g":4.7,"h":4.75,"v":1.2},
{"t":0,"u":0.05,"g":0,"h":0.05,"v":1.8},{"t":0,"u":0.05,"g":0.05,"h":0.1,"v":1.7},{"t":0,"u":0.05,"g":0.1,"h":0.15,"v":1.5},{"t":0,"u":0.05,"g":0.15,"h":0.22,"v":1.3},{"t":0,"u":0.05,"g":0.22,"h":0.3,"v":1.1},
{"t":0.05,"u":0.1,"g":0,"h":0.05,"v":2.8},{"t":0.05,"u":0.1,"g":0.05,"h":0.1,"v":2.9},{"t":0.05,"u":0.1,"g":0.1,"h":0.15,"v":2.8},{"t":0.05,"u":0.1,"g":0.15,"h":0.22,"v":2.6},{"t":0.05,"u":0.1,"g":0.22,"h":0.3,"v":2.4},
{"t":0.1,"u":0.15,"g":0,"h":0.05,"v":3.2},{"t":0.1,"u":0.15,"g":0.05,"h":0.1,"v":3.4},{"t":0.1,"u":0.15,"g":0.1,"h":0.15,"v":3.4},{"t":0.1,"u":0.15,"g":0.15,"h":0.22,"v":3.3},{"t":0.1,"u":0.15,"g":0.22,"h":0.3,"v":3.1},
{"t":0.15,"u":0.2,"g":0,"h":0.05,"v":3.3},{"t":0.15,"u":0.2,"g":0.05,"h":0.1,"v":3.5},{"t":0.15,"u":0.2,"g":0.1,"h":0.15,"v":3.5},{"t":0.15,"u":0.2,"g":0.15,"h":0.22,"v":3.4},{"t":0.15,"u":0.2,"g":0.22,"h":0.3,"v":3.2},
{"t":0.2,"u":0.25,"g":0,"h":0.05,"v":3.3},{"t":0.2,"u":0.25,"g":0.05,"h":0.1,"v":3.5},{"t":0.2,"u":0.25,"g":0.1,"h":0.15,"v":3.5},{"t":0.2,"u":0.25,"g":0.15,"h":0.22,"v":3.4},{"t":0.2,"u":0.25,"g":0.22,"h":0.3,"v":3.2},
{"t":0.25,"u":0.3,"g":0,"h":0.05,"v":3.2},{"t":0.25,"u":0.3,"g":0.05,"h":0.1,"v":3.4},{"t":0.25,"u":0.3,"g":0.1,"h":0.15,"v":3.4},{"t":0.25,"u":0.3,"g":0.15,"h":0.22,"v":3.3},{"t":0.25,"u":0.3,"g":0.22,"h":0.3,"v":3.2},
{"t":0.3,"u":0.35,"g":0,"h":0.05,"v":3.1},{"t":0.3,"u":0.35,"g":0.05,"h":0.1,"v":3.2},{"t":0.3,"u":0.35,"g":0.1,"h":0.15,"v":3.2},{"t":0.3,"u":0.35,"g":0.15,"h":0.22,"v":3.2},{"t":0.3,"u":0.35,"g":0.22,"h":0.3,"v":3.1},
{"t":0.35,"u":0.4,"g":0,"h":0.05,"v":2.9},{"t":0.35,"u":0.4,"g":0.05,"h":0.1,"v":3.0},{"t":0.35,"u":0.4,"g":0.1,"h":0.15,"v":3.0},{"t":0.35,"u":0.4,"g":0.15,"h":0.22,"v":3.0},{"t":0.35,"u":0.4,"g":0.22,"h":0.3,"v":2.9},
{"t":0.4,"u":0.45,"g":0,"h":0.05,"v":2.0},{"t":0.4,"u":0.45,"g":0.05,"h":0.1,"v":1.8},{"t":0.4,"u":0.45,"g":0.1,"h":0.15,"v":1.7},{"t":0.4,"u":0.45,"g":0.15,"h":0.22,"v":1.6},{"t":0.4,"u":0.45,"g":0.22,"h":0.3,"v":1.6},
{"t":0.45,"u":0.5,"g":0,"h":0.05,"v":1.0},{"t":0.45,"u":0.5,"g":0.05,"h":0.1,"v":0.9},{"t":0.45,"u":0.5,"g":0.1,"h":0.15,"v":0.9},{"t":0.45,"u":0.5,"g":0.15,"h":0.22,"v":0.9},{"t":0.45,"u":0.5,"g":0.22,"h":0.3,"v":0.8},
{"t":0.5,"u":0.55,"g":0,"h":0.05,"v":0.4},{"t":0.5,"u":0.55,"g":0.05,"h":0.1,"v":0.5},{"t":0.5,"u":0.55,"g":0.1,"h":0.15,"v":0.6},{"t":0.5,"u":0.55,"g":0.15,"h":0.22,"v":0.6},{"t":0.5,"u":0.55,"g":0.22,"h":0.3,"v":0.6},
{"t":0.55,"u":0.6,"g":0,"h":0.05,"v":1.5},{"t":0.55,"u":0.6,"g":0.05,"h":0.1,"v":1.8},{"t":0.55,"u":0.6,"g":0.1,"h":0.15,"v":2.0},{"t":0.55,"u":0.6,"g":0.15,"h":0.22,"v":1.8},{"t":0.55,"u":0.6,"g":0.22,"h":0.3,"v":1.5},
{"t":0.6,"u":0.65,"g":0,"h":0.05,"v":3.3},{"t":0.6,"u":0.65,"g":0.05,"h":0.1,"v":3.7},{"t":0.6,"u":0.65,"g":0.1,"h":0.15,"v":3.7},{"t":0.6,"u":0.65,"g":0.15,"h":0.22,"v":3.4},{"t":0.6,"u":0.65,"g":0.22,"h":0.3,"v":3.2},
{"t":0.65,"u":0.7,"g":0,"h":0.05,"v":3.5},{"t":0.65,"u":0.7,"g":0.05,"h":0.1,"v":3.9},{"t":0.65,"u":0.7,"g":0.1,"h":0.15,"v":3.9},{"t":0.65,"u":0.7,"g":0.15,"h":0.22,"v":3.7},{"t":0.65,"u":0.7,"g":0.22,"h":0.3,"v":3.3},
{"t":0.7,"u":0.75,"g":0,"h":0.05,"v":3.5},{"t":0.7,"u":0.75,"g":0.05,"h":0.1,"v":3.9},{"t":0.7,"u":0.75,"g":0.1,"h":0.15,"v":4.0},{"t":0.7,"u":0.75,"g":0.15,"h":0.22,"v":3.8},{"t":0.7,"u":0.75,"g":0.22,"h":0.3,"v":3.4},
{"t":0.75,"u":0.8,"g":0,"h":0.05,"v":3.4},{"t":0.75,"u":0.8,"g":0.05,"h":0.1,"v":3.8},{"t":0.75,"u":0.8,"g":0.1,"h":0.15,"v":3.8},{"t":0.75,"u":0.8,"g":0.15,"h":0.22,"v":3.6},{"t":0.75,"u":0.8,"g":0.22,"h":0.3,"v":3.3},
{"t":0.8,"u":0.85,"g":0,"h":0.05,"v":3.3},{"t":0.8,"u":0.85,"g":0.05,"h":0.1,"v":3.5},{"t":0.8,"u":0.85,"g":0.1,"h":0.15,"v":3.5},{"t":0.8,"u":0.85,"g":0.15,"h":0.22,"v":3.4},{"t":0.8,"u":0.85,"g":0.22,"h":0.3,"v":3.2},
{"t":0.85,"u":0.9,"g":0,"h":0.05,"v":3.0},{"t":0.85,"u":0.9,"g":0.05,"h":0.1,"v":3.1},{"t":0.85,"u":0.9,"g":0.1,"h":0.15,"v":3.1},{"t":0.85,"u":0.9,"g":0.15,"h":0.22,"v":3.0},{"t":0.85,"u":0.9,"g":0.22,"h":0.3,"v":3.0},
{"t":0.9,"u":0.95,"g":0,"h":0.05,"v":1.8},{"t":0.9,"u":0.95,"g":0.05,"h":0.1,"v":1.7},{"t":0.9,"u":0.95,"g":0.1,"h":0.15,"v":1.6},{"t":0.9,"u":0.95,"g":0.15,"h":0.22,"v":1.5},{"t":0.9,"u":0.95,"g":0.22,"h":0.3,"v":1.5},
{"t":0.95,"u":1,"g":0,"h":0.05,"v":0.9},{"t":0.95,"u":1,"g":0.05,"h":0.1,"v":0.9},{"t":0.95,"u":1,"g":0.1,"h":0.15,"v":0.85},{"t":0.95,"u":1,"g":0.15,"h":0.22,"v":0.85},{"t":0.95,"u":1,"g":0.22,"h":0.3,"v":0.8}
],
"ros":[
{"s":"O(¹D)","g":0,"d":14.95},{"s":"O(¹D)","g":0.05,"d":15.02},{"s":"O(¹D)","g":0.1,"d":15.12},{"s":"O(¹D)","g":0.15,"d":15.45},{"s":"O(¹D)","g":0.25,"d":16.0},{"s":"O(¹D)","g":0.35,"d":16.45},{"s":"O(¹D)","g":0.5,"d":16.54},{"s":"O(¹D)","g":0.75,"d":16.52},{"s":"O(¹D)","g":1,"d":16.51},{"s":"O(¹D)","g":1.25,"d":16.51},{"s":"O(¹D)","g":1.5,"d":16.51},{"s":"O(¹D)","g":1.75,"d":16.51},{"s":"O(¹D)","g":2,"d":16.51},{"s":"O(¹D)","g":2.25,"d":16.51},{"s":"O(¹D)","g":2.5,"d":16.51},{"s":"O(¹D)","g":2.75,"d":16.51},{"s":"O(¹D)","g":3,"d":16.51},{"s":"O(¹D)","g":3.25,"d":16.51},{"s":"O(¹D)","g":3.5,"d":16.51},{"s":"O(¹D)","g":3.75,"d":16.51},{"s":"O(¹D)","g":4,"d":16.52},{"s":"O(¹D)","g":4.25,"d":16.53},{"s":"O(¹D)","g":4.5,"d":16.55},{"s":"O(¹D)","g":4.65,"d":16.6},{"s":"O(¹D)","g":4.75,"d":16.63},{"s":"O(¹D)","g":4.85,"d":16.68},{"s":"O(¹D)","g":4.9,"d":16.74},{"s":"O(¹D)","g":4.95,"d":16.3},{"s":"O(¹D)","g":4.98,"d":15.4},{"s":"O(¹D)","g":5,"d":14.95},
{"s":"H₂O₂","g":0,"d":18.3},{"s":"H₂O₂","g":0.05,"d":18.8},{"s":"H₂O₂","g":0.1,"d":19.03},{"s":"H₂O₂","g":0.15,"d":19.03},{"s":"H₂O₂","g":0.25,"d":18.85},{"s":"H₂O₂","g":0.35,"d":18.55},{"s":"H₂O₂","g":0.5,"d":17.85},{"s":"H₂O₂","g":0.65,"d":17.05},{"s":"H₂O₂","g":0.75,"d":16.88},{"s":"H₂O₂","g":1,"d":16.82},{"s":"H₂O₂","g":1.25,"d":16.82},{"s":"H₂O₂","g":1.5,"d":16.82},{"s":"H₂O₂","g":1.75,"d":16.82},{"s":"H₂O₂","g":2,"d":16.82},{"s":"H₂O₂","g":2.25,"d":16.82},{"s":"H₂O₂","g":2.5,"d":16.82},{"s":"H₂O₂","g":2.75,"d":16.82},{"s":"H₂O₂","g":3,"d":16.82},{"s":"H₂O₂","g":3.25,"d":16.82},{"s":"H₂O₂","g":3.5,"d":16.82},{"s":"H₂O₂","g":3.75,"d":16.82},{"s":"H₂O₂","g":4,"d":16.82},{"s":"H₂O₂","g":4.25,"d":16.82},{"s":"H₂O₂","g":4.5,"d":16.81},{"s":"H₂O₂","g":4.65,"d":16.8},{"s":"H₂O₂","g":4.75,"d":16.82},{"s":"H₂O₂","g":4.85,"d":16.87},{"s":"H₂O₂","g":4.9,"d":16.95},{"s":"H₂O₂","g":4.95,"d":17.2},{"s":"H₂O₂","g":5,"d":17.5},
{"s":"HO₂","g":0,"d":18.0},{"s":"HO₂","g":0.05,"d":18.35},{"s":"HO₂","g":0.1,"d":18.5},{"s":"HO₂","g":0.15,"d":18.57},{"s":"HO₂","g":0.25,"d":18.53},{"s":"HO₂","g":0.35,"d":18.4},{"s":"HO₂","g":0.5,"d":18.12},{"s":"HO₂","g":0.65,"d":17.8},{"s":"HO₂","g":0.75,"d":17.68},{"s":"HO₂","g":1,"d":17.6},{"s":"HO₂","g":1.25,"d":17.6},{"s":"HO₂","g":1.5,"d":17.6},{"s":"HO₂","g":1.75,"d":17.6},{"s":"HO₂","g":2,"d":17.6},{"s":"HO₂","g":2.25,"d":17.6},{"s":"HO₂","g":2.5,"d":17.6},{"s":"HO₂","g":2.75,"d":17.6},{"s":"HO₂","g":3,"d":17.6},{"s":"HO₂","g":3.25,"d":17.6},{"s":"HO₂","g":3.5,"d":17.6},{"s":"HO₂","g":3.75,"d":17.6},{"s":"HO₂","g":4,"d":17.61},{"s":"HO₂","g":4.25,"d":17.62},{"s":"HO₂","g":4.5,"d":17.66},{"s":"HO₂","g":4.65,"d":17.73},{"s":"HO₂","g":4.75,"d":17.82},{"s":"HO₂","g":4.85,"d":17.88},{"s":"HO₂","g":4.9,"d":17.85},{"s":"HO₂","g":4.95,"d":17.72},{"s":"HO₂","g":5,"d":17.6},
{"s":"O₃","g":0,"d":17.6},{"s":"O₃","g":0.05,"d":17.62},{"s":"O₃","g":0.1,"d":17.66},{"s":"O₃","g":0.15,"d":17.7},{"s":"O₃","g":0.25,"d":17.84},{"s":"O₃","g":0.35,"d":18.08},{"s":"O₃","g":0.5,"d":18.4},{"s":"O₃","g":0.75,"d":18.5},{"s":"O₃","g":1,"d":18.52},{"s":"O₃","g":1.25,"d":18.52},{"s":"O₃","g":1.5,"d":18.52},{"s":"O₃","g":1.75,"d":18.52},{"s":"O₃","g":2,"d":18.52},{"s":"O₃","g":2.25,"d":18.52},{"s":"O₃","g":2.5,"d":18.52},{"s":"O₃","g":2.75,"d":18.52},{"s":"O₃","g":3,"d":18.52},{"s":"O₃","g":3.25,"d":18.52},{"s":"O₃","g":3.5,"d":18.52},{"s":"O₃","g":3.75,"d":18.52},{"s":"O₃","g":4,"d":18.53},{"s":"O₃","g":4.25,"d":18.54},{"s":"O₃","g":4.5,"d":18.57},{"s":"O₃","g":4.65,"d":18.64},{"s":"O₃","g":4.75,"d":18.72},{"s":"O₃","g":4.85,"d":18.65},{"s":"O₃","g":4.9,"d":18.5},{"s":"O₃","g":4.95,"d":18.25},{"s":"O₃","g":5,"d":18.0},
{"s":"OH","g":0,"d":19.13},{"s":"OH","g":0.05,"d":19.32},{"s":"OH","g":0.1,"d":19.5},{"s":"OH","g":0.15,"d":19.6},{"s":"OH","g":0.25,"d":19.6},{"s":"OH","g":0.35,"d":19.42},{"s":"OH","g":0.5,"d":19.0},{"s":"OH","g":0.65,"d":18.72},{"s":"OH","g":0.75,"d":18.65},{"s":"OH","g":1,"d":18.62},{"s":"OH","g":1.25,"d":18.62},{"s":"OH","g":1.5,"d":18.62},{"s":"OH","g":1.75,"d":18.62},{"s":"OH","g":2,"d":18.62},{"s":"OH","g":2.25,"d":18.62},{"s":"OH","g":2.5,"d":18.62},{"s":"OH","g":2.75,"d":18.62},{"s":"OH","g":3,"d":18.62},{"s":"OH","g":3.25,"d":18.62},{"s":"OH","g":3.5,"d":18.62},{"s":"OH","g":3.75,"d":18.62},{"s":"OH","g":4,"d":18.62},{"s":"OH","g":4.25,"d":18.62},{"s":"OH","g":4.5,"d":18.63},{"s":"OH","g":4.65,"d":18.66},{"s":"OH","g":4.75,"d":18.68},{"s":"OH","g":4.85,"d":18.6},{"s":"OH","g":4.9,"d":18.48},{"s":"OH","g":4.95,"d":18.22},{"s":"OH","g":5,"d":17.95},
{"s":"O₂(a)","g":0,"d":19.11},{"s":"O₂(a)","g":0.05,"d":19.12},{"s":"O₂(a)","g":0.1,"d":19.13},{"s":"O₂(a)","g":0.15,"d":19.14},{"s":"O₂(a)","g":0.25,"d":19.18},{"s":"O₂(a)","g":0.35,"d":19.23},{"s":"O₂(a)","g":0.5,"d":19.27},{"s":"O₂(a)","g":0.75,"d":19.29},{"s":"O₂(a)","g":1,"d":19.29},{"s":"O₂(a)","g":1.25,"d":19.29},{"s":"O₂(a)","g":1.5,"d":19.29},{"s":"O₂(a)","g":1.75,"d":19.29},{"s":"O₂(a)","g":2,"d":19.29},{"s":"O₂(a)","g":2.25,"d":19.29},{"s":"O₂(a)","g":2.5,"d":19.29},{"s":"O₂(a)","g":2.75,"d":19.29},{"s":"O₂(a)","g":3,"d":19.29},{"s":"O₂(a)","g":3.25,"d":19.29},{"s":"O₂(a)","g":3.5,"d":19.29},{"s":"O₂(a)","g":3.75,"d":19.29},{"s":"O₂(a)","g":4,"d":19.29},{"s":"O₂(a)","g":4.25,"d":19.29},{"s":"O₂(a)","g":4.5,"d":19.29},{"s":"O₂(a)","g":4.65,"d":19.29},{"s":"O₂(a)","g":4.75,"d":19.3},{"s":"O₂(a)","g":4.85,"d":19.35},{"s":"O₂(a)","g":4.9,"d":19.47},{"s":"O₂(a)","g":4.95,"d":19.45},{"s":"O₂(a)","g":5,"d":19.29},
{"s":"O","g":0,"d":19.45},{"s":"O","g":0.05,"d":19.49},{"s":"O","g":0.1,"d":19.58},{"s":"O","g":0.15,"d":19.68},{"s":"O","g":0.25,"d":19.8},{"s":"O","g":0.35,"d":19.8},{"s":"O","g":0.5,"d":19.76},{"s":"O","g":0.75,"d":19.72},{"s":"O","g":1,"d":19.7},{"s":"O","g":1.25,"d":19.69},{"s":"O","g":1.5,"d":19.69},{"s":"O","g":1.75,"d":19.69},{"s":"O","g":2,"d":19.69},{"s":"O","g":2.25,"d":19.69},{"s":"O","g":2.5,"d":19.69},{"s":"O","g":2.75,"d":19.69},{"s":"O","g":3,"d":19.69},{"s":"O","g":3.25,"d":19.69},{"s":"O","g":3.5,"d":19.69},{"s":"O","g":3.75,"d":19.69},{"s":"O","g":4,"d":19.7},{"s":"O","g":4.25,"d":19.71},{"s":"O","g":4.5,"d":19.73},{"s":"O","g":4.65,"d":19.75},{"s":"O","g":4.75,"d":19.78},{"s":"O","g":4.85,"d":19.82},{"s":"O","g":4.9,"d":19.95},{"s":"O","g":4.95,"d":20.15},{"s":"O","g":5,"d":19.95}
],
"rns":[
{"s":"N₂O₅","g":0,"d":10.0},{"s":"N₂O₅","g":0.05,"d":10.69},{"s":"N₂O₅","g":0.1,"d":11.4},{"s":"N₂O₅","g":0.15,"d":12.0},{"s":"N₂O₅","g":0.25,"d":13.0},{"s":"N₂O₅","g":0.35,"d":14.0},{"s":"N₂O₅","g":0.5,"d":14.55},{"s":"N₂O₅","g":0.75,"d":14.6},{"s":"N₂O₅","g":1,"d":14.6},{"s":"N₂O₅","g":1.25,"d":14.6},{"s":"N₂O₅","g":1.5,"d":14.6},{"s":"N₂O₅","g":1.75,"d":14.6},{"s":"N₂O₅","g":2,"d":14.6},{"s":"N₂O₅","g":2.25,"d":14.6},{"s":"N₂O₅","g":2.5,"d":14.6},{"s":"N₂O₅","g":2.75,"d":14.6},{"s":"N₂O₅","g":3,"d":14.6},{"s":"N₂O₅","g":3.25,"d":14.6},{"s":"N₂O₅","g":3.5,"d":14.6},{"s":"N₂O₅","g":3.75,"d":14.6},{"s":"N₂O₅","g":4,"d":14.62},{"s":"N₂O₅","g":4.25,"d":14.65},{"s":"N₂O₅","g":4.5,"d":14.8},{"s":"N₂O₅","g":4.65,"d":15.1},{"s":"N₂O₅","g":4.75,"d":15.5},{"s":"N₂O₅","g":4.85,"d":16.0},{"s":"N₂O₅","g":4.9,"d":16.3},{"s":"N₂O₅","g":4.95,"d":16.45},{"s":"N₂O₅","g":5,"d":16.55},
{"s":"N₂O","g":0,"d":14.83},{"s":"N₂O","g":0.05,"d":14.9},{"s":"N₂O","g":0.1,"d":15.03},{"s":"N₂O","g":0.15,"d":15.3},{"s":"N₂O","g":0.25,"d":15.78},{"s":"N₂O","g":0.35,"d":16.2},{"s":"N₂O","g":0.5,"d":16.05},{"s":"N₂O","g":0.75,"d":15.96},{"s":"N₂O","g":1,"d":15.95},{"s":"N₂O","g":1.25,"d":15.95},{"s":"N₂O","g":1.5,"d":15.95},{"s":"N₂O","g":1.75,"d":15.95},{"s":"N₂O","g":2,"d":15.95},{"s":"N₂O","g":2.25,"d":15.95},{"s":"N₂O","g":2.5,"d":15.95},{"s":"N₂O","g":2.75,"d":15.95},{"s":"N₂O","g":3,"d":15.95},{"s":"N₂O","g":3.25,"d":15.95},{"s":"N₂O","g":3.5,"d":15.95},{"s":"N₂O","g":3.75,"d":15.95},{"s":"N₂O","g":4,"d":15.96},{"s":"N₂O","g":4.25,"d":15.98},{"s":"N₂O","g":4.5,"d":16.1},{"s":"N₂O","g":4.65,"d":16.6},{"s":"N₂O","g":4.75,"d":17.8},{"s":"N₂O","g":4.85,"d":18.85},{"s":"N₂O","g":4.9,"d":19.25},{"s":"N₂O","g":4.95,"d":19.37},{"s":"N₂O","g":5,"d":19.4},
{"s":"NO₃","g":0,"d":15.17},{"s":"NO₃","g":0.05,"d":15.5},{"s":"NO₃","g":0.1,"d":15.75},{"s":"NO₃","g":0.15,"d":16.05},{"s":"NO₃","g":0.25,"d":16.65},{"s":"NO₃","g":0.35,"d":17.05},{"s":"NO₃","g":0.5,"d":17.33},{"s":"NO₃","g":0.75,"d":17.38},{"s":"NO₃","g":1,"d":17.38},{"s":"NO₃","g":1.25,"d":17.38},{"s":"NO₃","g":1.5,"d":17.38},{"s":"NO₃","g":1.75,"d":17.38},{"s":"NO₃","g":2,"d":17.38},{"s":"NO₃","g":2.25,"d":17.38},{"s":"NO₃","g":2.5,"d":17.38},{"s":"NO₃","g":2.75,"d":17.38},{"s":"NO₃","g":3,"d":17.38},{"s":"NO₃","g":3.25,"d":17.38},{"s":"NO₃","g":3.5,"d":17.38},{"s":"NO₃","g":3.75,"d":17.38},{"s":"NO₃","g":4,"d":17.4},{"s":"NO₃","g":4.25,"d":17.43},{"s":"NO₃","g":4.5,"d":17.5},{"s":"NO₃","g":4.65,"d":17.63},{"s":"NO₃","g":4.75,"d":17.85},{"s":"NO₃","g":4.85,"d":18.1},{"s":"NO₃","g":4.9,"d":18.3},{"s":"NO₃","g":4.95,"d":18.38},{"s":"NO₃","g":5,"d":18.28},
{"s":"HNO₃","g":0,"d":17.07},{"s":"HNO₃","g":0.05,"d":17.6},{"s":"HNO₃","g":0.1,"d":18.1},{"s":"HNO₃","g":0.15,"d":18.42},{"s":"HNO₃","g":0.25,"d":18.78},{"s":"HNO₃","g":0.35,"d":18.7},{"s":"HNO₃","g":0.5,"d":18.05},{"s":"HNO₃","g":0.75,"d":17.52},{"s":"HNO₃","g":1,"d":17.5},{"s":"HNO₃","g":1.25,"d":17.5},{"s":"HNO₃","g":1.5,"d":17.5},{"s":"HNO₃","g":1.75,"d":17.5},{"s":"HNO₃","g":2,"d":17.5},{"s":"HNO₃","g":2.25,"d":17.5},{"s":"HNO₃","g":2.5,"d":17.5},{"s":"HNO₃","g":2.75,"d":17.5},{"s":"HNO₃","g":3,"d":17.5},{"s":"HNO₃","g":3.25,"d":17.5},{"s":"HNO₃","g":3.5,"d":17.5},{"s":"HNO₃","g":3.75,"d":17.5},{"s":"HNO₃","g":4,"d":17.51},{"s":"HNO₃","g":4.25,"d":17.53},{"s":"HNO₃","g":4.5,"d":17.58},{"s":"HNO₃","g":4.65,"d":17.72},{"s":"HNO₃","g":4.75,"d":17.9},{"s":"HNO₃","g":4.85,"d":18.05},{"s":"HNO₃","g":4.9,"d":18.17},{"s":"HNO₃","g":4.95,"d":18.1},{"s":"HNO₃","g":5,"d":17.93},
{"s":"HNO₂","g":0,"d":18.45},{"s":"HNO₂","g":0.05,"d":18.75},{"s":"HNO₂","g":0.1,"d":18.95},{"s":"HNO₂","g":0.15,"d":18.97},{"s":"HNO₂","g":0.25,"d":18.85},{"s":"HNO₂","g":0.35,"d":18.55},{"s":"HNO₂","g":0.5,"d":18.0},{"s":"HNO₂","g":0.75,"d":17.56},{"s":"HNO₂","g":1,"d":17.53},{"s":"HNO₂","g":1.25,"d":17.53},{"s":"HNO₂","g":1.5,"d":17.53},{"s":"HNO₂","g":1.75,"d":17.53},{"s":"HNO₂","g":2,"d":17.53},{"s":"HNO₂","g":2.25,"d":17.53},{"s":"HNO₂","g":2.5,"d":17.53},{"s":"HNO₂","g":2.75,"d":17.53},{"s":"HNO₂","g":3,"d":17.53},{"s":"HNO₂","g":3.25,"d":17.53},{"s":"HNO₂","g":3.5,"d":17.53},{"s":"HNO₂","g":3.75,"d":17.53},{"s":"HNO₂","g":4,"d":17.54},{"s":"HNO₂","g":4.25,"d":17.55},{"s":"HNO₂","g":4.5,"d":17.58},{"s":"HNO₂","g":4.65,"d":17.72},{"s":"HNO₂","g":4.75,"d":18.05},{"s":"HNO₂","g":4.85,"d":18.6},{"s":"HNO₂","g":4.9,"d":18.92},{"s":"HNO₂","g":4.95,"d":18.9},{"s":"HNO₂","g":5,"d":18.75},
{"s":"NO₂","g":0,"d":17.59},{"s":"NO₂","g":0.05,"d":17.75},{"s":"NO₂","g":0.1,"d":17.97},{"s":"NO₂","g":0.15,"d":18.2},{"s":"NO₂","g":0.25,"d":18.5},{"s":"NO₂","g":0.35,"d":18.8},{"s":"NO₂","g":0.5,"d":18.85},{"s":"NO₂","g":0.75,"d":18.8},{"s":"NO₂","g":1,"d":18.79},{"s":"NO₂","g":1.25,"d":18.79},{"s":"NO₂","g":1.5,"d":18.79},{"s":"NO₂","g":1.75,"d":18.79},{"s":"NO₂","g":2,"d":18.79},{"s":"NO₂","g":2.25,"d":18.79},{"s":"NO₂","g":2.5,"d":18.79},{"s":"NO₂","g":2.75,"d":18.79},{"s":"NO₂","g":3,"d":18.79},{"s":"NO₂","g":3.25,"d":18.79},{"s":"NO₂","g":3.5,"d":18.79},{"s":"NO₂","g":3.75,"d":18.79},{"s":"NO₂","g":4,"d":18.8},{"s":"NO₂","g":4.25,"d":18.83},{"s":"NO₂","g":4.5,"d":18.9},{"s":"NO₂","g":4.65,"d":19.05},{"s":"NO₂","g":4.75,"d":19.3},{"s":"NO₂","g":4.85,"d":19.6},{"s":"NO₂","g":4.9,"d":19.82},{"s":"NO₂","g":4.95,"d":19.93},{"s":"NO₂","g":5,"d":20.0},
{"s":"NO","g":0,"d":19.05},{"s":"NO","g":0.05,"d":19.14},{"s":"NO","g":0.1,"d":19.3},{"s":"NO","g":0.15,"d":19.45},{"s":"NO","g":0.25,"d":19.8},{"s":"NO","g":0.35,"d":19.78},{"s":"NO","g":0.5,"d":19.55},{"s":"NO","g":0.75,"d":19.42},{"s":"NO","g":1,"d":19.4},{"s":"NO","g":1.25,"d":19.4},{"s":"NO","g":1.5,"d":19.4},{"s":"NO","g":1.75,"d":19.4},{"s":"NO","g":2,"d":19.4},{"s":"NO","g":2.25,"d":19.4},{"s":"NO","g":2.5,"d":19.4},{"s":"NO","g":2.75,"d":19.4},{"s":"NO","g":3,"d":19.4},{"s":"NO","g":3.25,"d":19.4},{"s":"NO","g":3.5,"d":19.4},{"s":"NO","g":3.75,"d":19.4},{"s":"NO","g":4,"d":19.4},{"s":"NO","g":4.25,"d":19.41},{"s":"NO","g":4.5,"d":19.46},{"s":"NO","g":4.65,"d":19.65},{"s":"NO","g":4.75,"d":19.98},{"s":"NO","g":4.85,"d":20.6},{"s":"NO","g":4.9,"d":20.9},{"s":"NO","g":4.95,"d":21.1},{"s":"NO","g":5,"d":20.86}
]
},
"concat":[
{
"width":240,"height":229,
"layer":[
{"data":{"name":"ne"},
"mark":{"type":"rect","strokeWidth":0},
"encoding":{
"x":{"field":"t","type":"quantitative","scale":{"domain":[0,1],"nice":false,"zero":false},"axis":{"orient":"bottom","values":[0,0.25,0.5,0.75,1],"format":".1~f","labelExpr":"datum.value == 0.25 || datum.value == 0.75 ? '' : datum.label","tickSize":-5,"title":"Discharge cycle","labelPadding":4,"titlePadding":2}},
"x2":{"field":"u"},
"y":{"field":"g","type":"quantitative","scale":{"domain":[0,5],"nice":false,"zero":false},"axis":{"orient":"left","values":[0,1.25,2.5,3.75,5],"format":".1~f","labelExpr":"datum.value == 1.25 || datum.value == 3.75 ? '' : datum.label","labelAngle":-90,"tickSize":-5,"title":"Gas gap (mm)","labelPadding":6,"titlePadding":4,"labelOffset":{"condition":[{"test":"datum.value == 5","value":7},{"test":"datum.value == 0","value":-7}],"value":0}}},
"y2":{"field":"h"},
"fill":{"field":"v","type":"quantitative","title":"m⁻³",
"scale":{"type":"linear","domain":[12,12.1,12.14,12.6,13.1,13.4,13.65,14,14.5,15,15.3,15.8,16.2,16.5,16.9,17.2,17.6,18,18.001,18.16],"range":["#000000","#000000","#0000f0","#0030ff","#0070ff","#00b0ff","#00f4ff","#00ffc8","#00ff80","#00f030","#00e000","#70f000","#c0ff00","#ffff00","#ffc800","#ff9c00","#ff5000","#ff0000","#ffffff","#ffffff"],"interpolate":"rgb","nice":false,"zero":false},
"legend":{"type":"gradient","orient":"none","legendX":0,"legendY":-30,"direction":"horizontal","gradientLength":240,"gradientThickness":19,"values":[12,14,16,18],"labelExpr":"datum.value == 12 ? '10¹²' : datum.value == 14 ? '10¹⁴' : datum.value == 16 ? '10¹⁶' : '10¹⁸'","labelOffset":-39,"labelFontSize":20,"titleOrient":"right","titlePadding":0,"gradientStrokeColor":"#444444","gradientStrokeWidth":1}}
}},
{"data":{"values":[{"t":0.91,"g":4.63,"lbl":"(a)"}]},
"mark":{"type":"text","fontSize":21,"font":"Liberation Serif","color":"#111111"},
"encoding":{"x":{"field":"t","type":"quantitative","axis":null},"y":{"field":"g","type":"quantitative","axis":null},"text":{"field":"lbl"}}}
],
"resolve":{"axis":{"x":"independent","y":"independent"}}
},
{
"width":232,"height":229,
"data":{"name":"ros"},
"layer":[
{"mark":{"type":"line","strokeWidth":1.3,"interpolate":"catmull-rom","clip":true},
"encoding":{
"x":{"field":"d","type":"quantitative","scale":{"domain":[14.9,20.5],"nice":false,"zero":false},"axis":{"orient":"bottom","values":[14.903,14.954,15,15.301,15.477,15.602,15.699,15.778,15.845,15.903,15.954,16,16.301,16.477,16.602,16.699,16.778,16.845,16.903,16.954,17,17.301,17.477,17.602,17.699,17.778,17.845,17.903,17.954,18,18.301,18.477,18.602,18.699,18.778,18.845,18.903,18.954,19,19.301,19.477,19.602,19.699,19.778,19.845,19.903,19.954,20,20.301,20.477],"labelExpr":"datum.value == 16 ? '10¹⁶' : datum.value == 18 ? '10¹⁸' : datum.value == 20 ? '10²⁰' : ''","tickSize":{"condition":{"test":"datum.value % 1 == 0","value":-6},"value":-3},"title":"Density (m⁻³)","labelPadding":4,"titlePadding":2}},
"y":{"field":"g","type":"quantitative","scale":{"domain":[0,5],"nice":false,"zero":false},"axis":{"orient":"left","values":[0,1.25,2.5,3.75,5],"labels":false,"title":null,"tickSize":-6}},
"color":{"field":"s","type":"nominal","scale":{"domain":["O(¹D)","H₂O₂","HO₂","O₃","OH","O₂(a)","O"],"range":["#2c5d94","#f26b6b","#a6a6a6","#2fb45a","#5b5b9e","#f7c200","#e00000"]},
"legend":{"orient":"none","legendX":242,"legendY":-3,"title":null,"symbolType":"stroke","symbolSize":400,"symbolStrokeWidth":1.5,"labelFontSize":21,"rowPadding":3,"labelOffset":3,"labelLimit":200}},
"order":{"field":"g","type":"quantitative"}
}},
{"transform":[{"filter":"datum.g * 4 == round(datum.g * 4)"}],
"mark":{"type":"point","filled":true,"shape":"square","size":7,"opacity":1,"clip":true},
"encoding":{"x":{"field":"d","type":"quantitative","axis":null},"y":{"field":"g","type":"quantitative","axis":null},"color":{"field":"s","type":"nominal","legend":null}}},
{"data":{"values":[{"d":20.09,"g":4.67,"lbl":"(c)"}]},
"mark":{"type":"text","fontSize":21,"font":"Liberation Serif","color":"#111111"},
"encoding":{
"x":{"field":"d","type":"quantitative","axis":{"orient":"top","values":[14.903,14.954,15,15.301,15.477,15.602,15.699,15.778,15.845,15.903,15.954,16,16.301,16.477,16.602,16.699,16.778,16.845,16.903,16.954,17,17.301,17.477,17.602,17.699,17.778,17.845,17.903,17.954,18,18.301,18.477,18.602,18.699,18.778,18.845,18.903,18.954,19,19.301,19.477,19.602,19.699,19.778,19.845,19.903,19.954,20,20.301,20.477],"labels":false,"title":null,"tickSize":{"condition":{"test":"datum.value % 1 == 0","value":-6},"value":-3}}},
"y":{"field":"g","type":"quantitative","axis":{"orient":"right","values":[0,1.25,2.5,3.75,5],"labels":false,"title":null,"tickSize":-6}},
"text":{"field":"lbl"}}}
],
"resolve":{"axis":{"x":"independent","y":"independent"}}
},
{
"width":240,"height":231,
"layer":[
{"data":{"name":"te"},
"mark":{"type":"rect","strokeWidth":0},
"encoding":{
"x":{"field":"t","type":"quantitative","scale":{"domain":[0,1],"nice":false,"zero":false},"axis":{"orient":"bottom","values":[0,0.25,0.5,0.75,1],"format":".1~f","labelExpr":"datum.value == 0.25 || datum.value == 0.75 ? '' : datum.label","tickSize":-5,"title":"Discharge cycle","labelPadding":4,"titlePadding":2}},
"x2":{"field":"u"},
"y":{"field":"g","type":"quantitative","scale":{"domain":[0,5],"nice":false,"zero":false},"axis":{"orient":"left","values":[0,1.25,2.5,3.75,5],"format":".1~f","labelExpr":"datum.value == 1.25 || datum.value == 3.75 ? '' : datum.label","labelAngle":-90,"tickSize":-5,"title":"Gas gap (mm)","labelPadding":6,"titlePadding":4,"labelOffset":{"condition":[{"test":"datum.value == 5","value":7},{"test":"datum.value == 0","value":-7}],"value":0}}},
"y2":{"field":"h"},
"fill":{"field":"v","type":"quantitative","title":"eV",
"scale":{"type":"linear","domain":[0,0.1,0.14,0.6,1.1,1.4,1.65,2,2.5,3,3.3,3.8,4.2,4.5,4.9,5.2,5.6,6,6.08],"range":["#000000","#000000","#0000f0","#0030ff","#0070ff","#00b0ff","#00f4ff","#00ffc8","#00ff80","#00f030","#00e000","#70f000","#c0ff00","#ffff00","#ffc800","#ff9c00","#ff5000","#ff0000","#ff0000"],"interpolate":"rgb","nice":false,"zero":false},
"legend":{"type":"gradient","orient":"none","legendX":0,"legendY":-30,"direction":"horizontal","gradientLength":240,"gradientThickness":19,"values":[0,2,4,6],"labelOffset":-39,"labelFontSize":20,"titleOrient":"right","titlePadding":0,"gradientStrokeColor":"#444444","gradientStrokeWidth":1}}
}},
{"data":{"values":[{"t":0.9,"g":4.63,"lbl":"(b)"}]},
"mark":{"type":"text","fontSize":21,"font":"Liberation Serif","color":"#111111"},
"encoding":{"x":{"field":"t","type":"quantitative","axis":null},"y":{"field":"g","type":"quantitative","axis":null},"text":{"field":"lbl"}}}
],
"resolve":{"axis":{"x":"independent","y":"independent"}}
},
{
"width":232,"height":229,
"data":{"name":"rns"},
"layer":[
{"mark":{"type":"line","strokeWidth":1.3,"interpolate":"catmull-rom","clip":true},
"encoding":{
"x":{"field":"d","type":"quantitative","scale":{"domain":[10,22],"nice":false,"zero":false},"axis":{"orient":"bottom","values":[10,10.301,10.477,10.602,10.699,10.778,10.845,10.903,10.954,11,11.301,11.477,11.602,11.699,11.778,11.845,11.903,11.954,12,12.301,12.477,12.602,12.699,12.778,12.845,12.903,12.954,13,13.301,13.477,13.602,13.699,13.778,13.845,13.903,13.954,14,14.301,14.477,14.602,14.699,14.778,14.845,14.903,14.954,15,15.301,15.477,15.602,15.699,15.778,15.845,15.903,15.954,16,16.301,16.477,16.602,16.699,16.778,16.845,16.903,16.954,17,17.301,17.477,17.602,17.699,17.778,17.845,17.903,17.954,18,18.301,18.477,18.602,18.699,18.778,18.845,18.903,18.954,19,19.301,19.477,19.602,19.699,19.778,19.845,19.903,19.954,20,20.301,20.477,20.602,20.699,20.778,20.845,20.903,20.954,21,21.301,21.477,21.602,21.699,21.778,21.845,21.903,21.954,22],"labelExpr":"datum.value == 11 ? '10¹¹' : datum.value == 14 ? '10¹⁴' : datum.value == 17 ? '10¹⁷' : datum.value == 20 ? '10²⁰' : ''","tickSize":{"condition":{"test":"datum.value % 1 == 0","value":-6},"value":-3},"title":"Density (m⁻³)","labelPadding":4,"titlePadding":2}},
"y":{"field":"g","type":"quantitative","scale":{"domain":[0,5],"nice":false,"zero":false},"axis":{"orient":"left","values":[0,1.25,2.5,3.75,5],"labels":false,"title":null,"tickSize":-6}},
"color":{"field":"s","type":"nominal","scale":{"domain":["N₂O₅","N₂O","NO₃","HNO₃","HNO₂","NO₂","NO"],"range":["#6262a8","#3cbc5e","#f8c400","#f07878","#a8a8a8","#2f6fb0","#e00000"]},
"legend":{"orient":"none","legendX":242,"legendY":-2,"title":null,"symbolType":"stroke","symbolSize":400,"symbolStrokeWidth":1.5,"labelFontSize":21,"rowPadding":2,"labelOffset":3,"labelLimit":200}},
"order":{"field":"g","type":"quantitative"}
}},
{"transform":[{"filter":"datum.g * 4 == round(datum.g * 4)"}],
"mark":{"type":"point","filled":true,"shape":"square","size":7,"opacity":1,"clip":true},
"encoding":{"x":{"field":"d","type":"quantitative","axis":null},"y":{"field":"g","type":"quantitative","axis":null},"color":{"field":"s","type":"nominal","legend":null}}},
{"data":{"values":[{"d":20.97,"g":4.65,"lbl":"(d)"}]},
"mark":{"type":"text","fontSize":21,"font":"Liberation Serif","color":"#111111"},
"encoding":{
"x":{"field":"d","type":"quantitative","axis":{"orient":"top","values":[10,10.301,10.477,10.602,10.699,10.778,10.845,10.903,10.954,11,11.301,11.477,11.602,11.699,11.778,11.845,11.903,11.954,12,12.301,12.477,12.602,12.699,12.778,12.845,12.903,12.954,13,13.301,13.477,13.602,13.699,13.778,13.845,13.903,13.954,14,14.301,14.477,14.602,14.699,14.778,14.845,14.903,14.954,15,15.301,15.477,15.602,15.699,15.778,15.845,15.903,15.954,16,16.301,16.477,16.602,16.699,16.778,16.845,16.903,16.954,17,17.301,17.477,17.602,17.699,17.778,17.845,17.903,17.954,18,18.301,18.477,18.602,18.699,18.778,18.845,18.903,18.954,19,19.301,19.477,19.602,19.699,19.778,19.845,19.903,19.954,20,20.301,20.477,20.602,20.699,20.778,20.845,20.903,20.954,21,21.301,21.477,21.602,21.699,21.778,21.845,21.903,21.954,22],"labels":false,"title":null,"tickSize":{"condition":{"test":"datum.value % 1 == 0","value":-6},"value":-3}}},
"y":{"field":"g","type":"quantitative","axis":{"orient":"right","values":[0,1.25,2.5,3.75,5],"labels":false,"title":null,"tickSize":-6}},
"text":{"field":"lbl"}}}
],
"resolve":{"axis":{"x":"independent","y":"independent"}}
}
]
}
